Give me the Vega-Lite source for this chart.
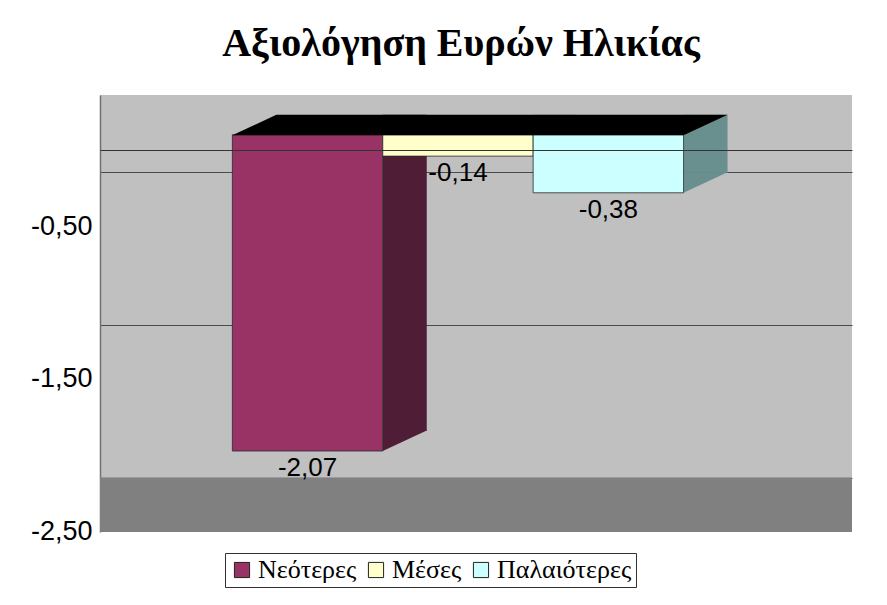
{
  "$schema": "https://vega.github.io/schema/vega-lite/v6.json",
  "width": 752,
  "height": 437,
  "autosize": {"type": "none"},
  "padding": {"left": 100, "top": 95, "right": 35, "bottom": 73},
  "background": "white",
  "title": {
    "text": "Αξιολόγηση Ευρών Ηλικίας",
    "font": "Liberation Serif",
    "fontSize": 40,
    "fontWeight": "bold",
    "color": "black",
    "anchor": "middle",
    "baseline": "alphabetic",
    "offset": -1,
    "dx": -15
  },
  "data": {
    "values": [
      {"Ομάδα": "Νεότερες", "Αξιολόγηση": -2.07},
      {"Ομάδα": "Μέσες", "Αξιολόγηση": -0.14},
      {"Ομάδα": "Παλαιότερες", "Αξιολόγηση": -0.38}
    ]
  },
  "layer": [
    {
      "description": "floor of the 3-D box",
      "mark": {"type": "rect", "color": "#808080"},
      "encoding": {
        "y": {"datum": -2.245, "type": "quantitative"},
        "y2": {"datum": -2.6}
      }
    },
    {
      "description": "right-hand side face of each bar, raised by the depth of the box",
      "mark": {"type": "bar", "width": 44, "xOffset": 97.2, "yOffset": -20, "y2Offset": -20},
      "encoding": {
        "x": {"field": "Ομάδα", "type": "nominal", "sort": null},
        "y": {"field": "Αξιολόγηση", "type": "quantitative"},
        "fill": {
          "condition": [
            {"test": "datum['Ομάδα'] === 'Νεότερες'", "value": "#4f1d36"},
            {"test": "datum['Ομάδα'] === 'Μέσες'", "value": "#8a8a70"}
          ],
          "value": "#6a8f8f"
        }
      }
    },
    {
      "description": "lower corner of the side face",
      "mark": {"type": "point", "shape": "M75.2,-20.5L119.2,-20.5L75.2,0Z", "size": 4, "filled": true, "opacity": 1, "strokeWidth": 0},
      "encoding": {
        "x": {"field": "Ομάδα", "type": "nominal", "sort": null},
        "y": {"field": "Αξιολόγηση", "type": "quantitative"},
        "fill": {
          "condition": [
            {"test": "datum['Ομάδα'] === 'Νεότερες'", "value": "#4f1d36"},
            {"test": "datum['Ομάδα'] === 'Μέσες'", "value": "#8a8a70"}
          ],
          "value": "#6a8f8f"
        }
      }
    },
    {
      "description": "front face of each bar",
      "mark": {"type": "bar", "stroke": "#2a2a2a", "strokeWidth": 0.8},
      "encoding": {
        "x": {
          "field": "Ομάδα",
          "type": "nominal",
          "sort": null,
          "scale": {"paddingInner": 0, "paddingOuter": 1, "align": 0.44},
          "axis": {
            "orient": "top",
            "offset": -55,
            "title": null,
            "labels": false,
            "ticks": false,
            "grid": false,
            "domainColor": "#333333",
            "domainWidth": 1,
            "zindex": 1
          }
        },
        "y": {
          "field": "Αξιολόγηση",
          "type": "quantitative",
          "scale": {"domain": [-2.6, 0.26], "nice": false, "zero": false},
          "axis": {
            "title": null,
            "values": [-0.5, -1.5, -2.5],
            "format": ".2f",
            "labelFont": "Liberation Sans",
            "labelFontSize": 27,
            "labelColor": "black",
            "labelPadding": 8,
            "ticks": false,
            "tickOffset": -39,
            "labelOffset": 54,
            "grid": true,
            "gridColor": "#4a4a4a",
            "gridWidth": 1,
            "domainColor": "#707070",
            "domainWidth": 1.5
          }
        },
        "color": {
          "field": "Ομάδα",
          "type": "nominal",
          "sort": null,
          "scale": {"domain": ["Νεότερες", "Μέσες", "Παλαιότερες"], "range": ["#993366", "#ffffcc", "#ccffff"]},
          "legend": {
            "title": null,
            "orient": "none",
            "direction": "horizontal",
            "legendX": 125,
            "legendY": 458
          }
        }
      }
    },
    {
      "description": "one black top face spanning the row of bars, anchored on the middle bar",
      "transform": [{"filter": "datum['Ομάδα'] === 'Μέσες'"}],
      "mark": {"type": "point", "shape": "M-225.6,0.5L225.6,0.5L269.6,-20L-181.6,-20Z", "size": 4, "filled": true, "opacity": 1, "strokeWidth": 0, "color": "black"},
      "encoding": {
        "x": {"field": "Ομάδα", "type": "nominal", "sort": null},
        "y": {"datum": 0, "type": "quantitative"}
      }
    },
    {
      "description": "value labels",
      "mark": {"type": "text", "baseline": "top", "dy": 4, "font": "Liberation Sans", "fontSize": 26, "color": "black"},
      "encoding": {
        "x": {"field": "Ομάδα", "type": "nominal", "sort": null},
        "y": {"field": "Αξιολόγηση", "type": "quantitative"},
        "text": {"field": "Αξιολόγηση", "type": "quantitative", "format": ".2f"}
      }
    }
  ],
  "config": {
    "locale": {
      "number": {"decimal": ",", "thousands": ".", "grouping": [3], "currency": ["", " €"], "minus": "-"}
    },
    "view": {"fill": "#c0c0c0", "stroke": null},
    "legend": {
      "symbolType": "square",
      "symbolSize": 230,
      "symbolStrokeColor": "#222222",
      "symbolStrokeWidth": 1,
      "symbolOpacity": 1,
      "labelFont": "Liberation Serif",
      "labelFontSize": 26,
      "labelColor": "black",
      "labelOffset": 3,
      "labelLimit": 300,
      "columnPadding": 6,
      "padding": 4,
      "strokeColor": "#333333",
      "fillColor": "white"
    }
  }
}
